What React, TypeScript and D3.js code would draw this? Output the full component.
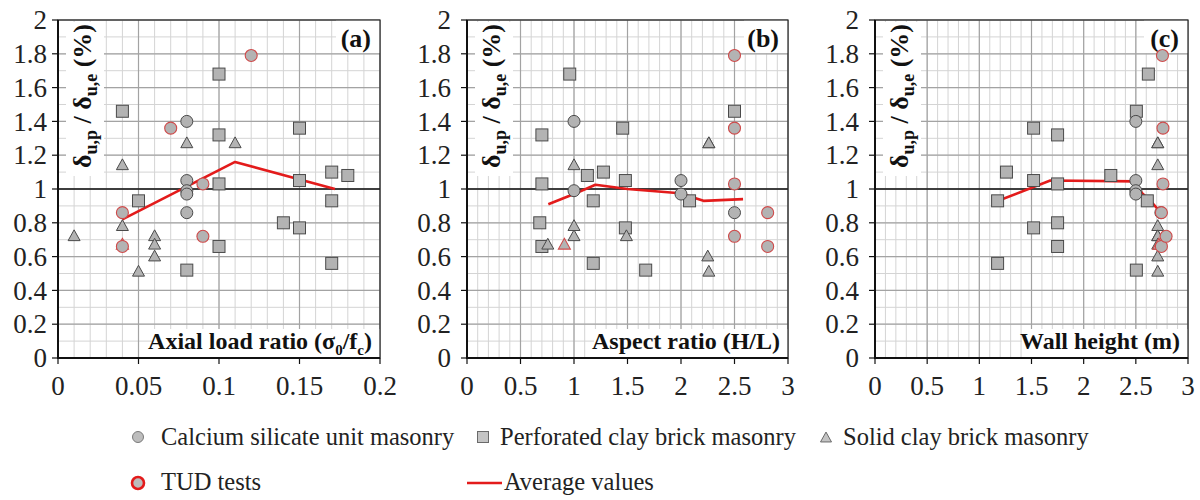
import React from "react";
import * as d3 from "d3";

// Drift-capacity ratio δu,p / δu,e of each specimen, with the three wall parameters
// (axial load ratio σ0/fc, aspect ratio H/L, wall height in m).

// Calcium silicate unit masonry
const calciumRatio = [1.4, 1.05, 0.99, 0.97, 0.86];
const calciumAxial = [0.08, 0.08, 0.08, 0.08, 0.08];
const calciumAspect = [1.0, 2.0, 1.0, 2.0, 2.5];
const calciumHeight = [2.5, 2.5, 2.5, 2.5, 2.74];

// Perforated clay brick masonry
const perforatedRatio = [1.46, 0.93, 0.52, 1.68, 1.32, 1.03, 0.66, 0.8, 1.36, 1.05, 0.77, 1.1, 0.93, 0.56, 1.08];
const perforatedAxial = [0.04, 0.05, 0.08, 0.1, 0.1, 0.1, 0.1, 0.14, 0.15, 0.15, 0.15, 0.17, 0.17, 0.17, 0.18];
const perforatedAspect = [2.5, 1.18, 1.67, 0.96, 0.7, 0.7, 0.7, 0.68, 1.455, 1.48, 1.48, 1.275, 2.08, 1.18, 1.125];
const perforatedHeight = [2.505, 1.175, 2.505, 2.62, 1.75, 1.75, 1.75, 1.75, 1.52, 1.52, 1.52, 1.26, 2.61, 1.175, 2.26];

// Solid clay brick masonry
const solidRatio = [0.72, 1.14, 0.78, 0.51, 0.72, 0.67, 0.6, 1.27, 1.27];
const solidAxial = [0.01, 0.04, 0.04, 0.05, 0.06, 0.06, 0.06, 0.08, 0.11];
const solidAspect = [1.0, 1.0, 1.0, 2.26, 1.49, 0.755, 2.25, 2.26, 2.26];
const solidHeight = [2.71, 2.71, 2.71, 2.71, 2.71, 2.71, 2.71, 2.71, 2.71];

// TUD tests (calcium silicate walls drawn as circles, one solid clay wall as a triangle)
const tudRatio = [0.86, 0.66, 1.36, 1.03, 0.72, 1.79];
const tudAxial = [0.04, 0.04, 0.07, 0.09, 0.09, 0.12];
const tudAspect = [2.81, 2.81, 2.5, 2.5, 2.5, 2.5];
const tudHeight = [2.745, 2.745, 2.76, 2.76, 2.79, 2.755];
const tudTriRatio = [0.67];
const tudTriAxial = [0.04];
const tudTriAspect = [0.91];
const tudTriHeight = [2.72];

// Average values
const avgAxial: [number, number][] = [[0.04, 0.82], [0.11, 1.16], [0.172, 1.0]];
const avgAspect: [number, number][] = [[0.76, 0.91], [1.0, 0.97], [1.2, 1.025], [1.5, 1.0], [1.99, 0.975], [2.21, 0.93], [2.58, 0.94]];
const avgHeight: [number, number][] = [[1.18, 0.93], [1.68, 1.05], [2.49, 1.045], [2.56, 0.975], [2.64, 0.93], [2.74, 0.86]];

// Axes
const yTicks = [0, 0.2, 0.4, 0.6, 0.8, 1, 1.2, 1.4, 1.6, 1.8, 2];
const axialTicks = [0, 0.05, 0.1, 0.15, 0.2];
const aspectTicks = [0, 0.5, 1, 1.5, 2, 2.5, 3];
const heightTicks = [0, 0.5, 1, 1.5, 2, 2.5, 3];

const legendLabels = [
  "Calcium silicate unit masonry",
  "Perforated clay brick masonry",
  "Solid clay brick masonry",
  "TUD tests",
  "Average values",
];

const FONT_NAME = "Liberation Serif";
const FONT = `"${FONT_NAME}"`;
const FILL = "#b3b3b3";
const EDGE = "#4a4a4a";
const RED = "#e31b1b";
const TUD_EDGE = "#cf4a4a";
const MINOR = "#d4d4d4";
const MAJOR = "#a3a3a3";
const MS = 12; // marker size

const TOP = 20;
const BOTTOM = 358;
const fmt = (v: number) => String(+v.toFixed(2));

const y = d3.scaleLinear().domain([0, 2]).range([BOTTOM, TOP]);

const triPath = (cx: number, cy: number, s: number) => {
  const h = s * 0.9;
  return `M${cx},${cy - h * 0.6}L${cx + s / 2},${cy + h * 0.4}L${cx - s / 2},${cy + h * 0.4}Z`;
};

type PanelProps = {
  tag: string;
  left: number;
  right: number;
  ticks: number[];
  minor: number;
  title: React.ReactNode;
  titleWidth: number;
  calcium: number[];
  perforated: number[];
  solid: number[];
  tud: number[];
  tudTri: number[];
  avg: [number, number][];
  yLabelGap: number;
};

const txt = (size: number): React.CSSProperties => ({ fontFamily: FONT, fontSize: size });

function Panel(p: PanelProps) {
  const d0 = p.ticks[0];
  const d1 = p.ticks[p.ticks.length - 1];
  const x = d3.scaleLinear().domain([d0, d1]).range([p.left, p.right]);
  const nx = Math.round((d1 - d0) / p.minor);
  const minorX = d3.range(0, nx + 1).map((i) => d0 + i * p.minor);
  const minorY = d3.range(0, 21).map((i) => i * 0.1);
  const line = d3.line<[number, number]>().x((d) => x(d[0])).y((d) => y(d[1]));
  const ylx = p.left + 33;
  const yly = 96;

  return (
    <g>
      {/* grid */}
      {minorX.map((d, i) => (
        <line key={`mx${i}`} x1={x(d)} x2={x(d)} y1={TOP} y2={BOTTOM} stroke={MINOR} strokeWidth={1} />
      ))}
      {minorY.map((d, i) => (
        <line key={`my${i}`} x1={p.left} x2={p.right} y1={y(d)} y2={y(d)} stroke={MINOR} strokeWidth={1} />
      ))}
      {p.ticks.map((d, i) => (
        <line key={`Mx${i}`} x1={x(d)} x2={x(d)} y1={TOP} y2={BOTTOM} stroke={MAJOR} strokeWidth={1.2} />
      ))}
      {yTicks.map((d, i) => (
        <line key={`My${i}`} x1={p.left} x2={p.right} y1={y(d)} y2={y(d)} stroke={MAJOR} strokeWidth={1.2} />
      ))}

      {/* label backings */}
      <rect x={p.left + 8} y={TOP + 2} width={38} height={154} fill="#fff" />
      <rect x={p.right - 8 - p.titleWidth - 6} y={BOTTOM - 29} width={p.titleWidth + 14} height={29} fill="#fff" />
      <rect x={p.right - 44} y={TOP} width={44} height={33} fill="#fff" />

      {/* y-axis label */}
      <text
        transform={`translate(${ylx},${yly}) rotate(-90)`}
        textAnchor="middle"
        fill="#111"
        fontFamily={FONT_NAME}
        fontWeight="bold"
        style={txt(26)}
      >
        <tspan>δ</tspan>
        <tspan dy={6} fontSize={18}>u,p</tspan>
        <tspan dy={-6}> / δ</tspan>
        <tspan dy={6} fontSize={18}>u,e</tspan>
        <tspan dy={-6}> (%)</tspan>
      </text>

      {/* x-axis title */}
      <text x={p.right - 8} y={BOTTOM - 9} textAnchor="end" fill="#111" fontFamily={FONT_NAME} fontWeight="bold" style={txt(24)}>
        {p.title}
      </text>

      {/* panel tag */}
      <text x={p.right - 9} y={TOP + 27} textAnchor="end" fill="#111" fontFamily={FONT_NAME} fontWeight="bold" style={txt(26)}>
        {p.tag}
      </text>

      {/* reference line at ratio 1 */}
      <line x1={p.left} x2={p.right} y1={y(1)} y2={y(1)} stroke="#111" strokeWidth={1.6} />

      {/* average values */}
      <path d={line(p.avg) || ""} fill="none" stroke={RED} strokeWidth={2.6} strokeLinejoin="round" />

      {/* perforated clay brick masonry */}
      {p.perforated.map((v, i) => (
        <rect
          key={`sq${i}`}
          x={x(v) - MS / 2}
          y={y(perforatedRatio[i]) - MS / 2}
          width={MS}
          height={MS}
          fill={FILL}
          stroke={EDGE}
          strokeWidth={1}
        />
      ))}
      {/* calcium silicate unit masonry */}
      {p.calcium.map((v, i) => (
        <circle key={`ci${i}`} cx={x(v)} cy={y(calciumRatio[i])} r={MS / 2} fill={FILL} stroke={EDGE} strokeWidth={1} />
      ))}
      {/* solid clay brick masonry */}
      {p.solid.map((v, i) => (
        <path key={`tr${i}`} d={triPath(x(v), y(solidRatio[i]), MS)} fill={FILL} stroke={EDGE} strokeWidth={1} />
      ))}
      {/* TUD tests */}
      {p.tudTri.map((v, i) => (
        <path key={`tt${i}`} d={triPath(x(v), y(tudTriRatio[i]), MS)} fill={FILL} stroke={TUD_EDGE} strokeWidth={1.1} />
      ))}
      {p.tud.map((v, i) => (
        <circle key={`tc${i}`} cx={x(v)} cy={y(tudRatio[i])} r={MS / 2} fill={FILL} stroke={TUD_EDGE} strokeWidth={1.1} />
      ))}

      {/* frame and axes */}
      <rect x={p.left} y={TOP} width={p.right - p.left} height={BOTTOM - TOP} fill="none" stroke="#222" strokeWidth={1.2} />
      <line x1={p.left} x2={p.left} y1={TOP} y2={BOTTOM + 1} stroke="#111" strokeWidth={2} />
      <line x1={p.left - 1} x2={p.right} y1={BOTTOM} y2={BOTTOM} stroke="#111" strokeWidth={2} />

      {p.ticks.map((d, i) => (
        <g key={`xt${i}`}>
          <line x1={x(d)} x2={x(d)} y1={BOTTOM} y2={BOTTOM + 6} stroke="#111" strokeWidth={1.2} />
          <text x={x(d)} y={BOTTOM + 37} textAnchor="middle" fill="#222" fontFamily={FONT_NAME} style={txt(27)}>
            {fmt(d)}
          </text>
        </g>
      ))}
      {yTicks.map((d, i) => (
        <g key={`yt${i}`}>
          <line x1={p.left - 6} x2={p.left} y1={y(d)} y2={y(d)} stroke="#111" strokeWidth={1.2} />
          <text x={p.left - p.yLabelGap} y={y(d)} dy="0.34em" textAnchor="end" fill="#222" fontFamily={FONT_NAME} style={txt(27)}>
            {fmt(d)}
          </text>
        </g>
      ))}
    </g>
  );
}

export default function App() {
  const row1 = 437;
  const row2 = 483;
  const legendX = [138, 483, 826];
  return (
    <svg
      width={1200}
      height={500}
      fontFamily={FONT_NAME}
      style={{ position: "absolute", left: 0, top: 0, display: "block", fontFamily: FONT }}
    >
      <style>{`text, tspan { font-family: "Liberation Serif", "Times New Roman", Tinos, serif; }`}</style>
      <rect width={1200} height={500} fill="#fff" />

      <Panel
        tag="(a)" left={58} right={380} ticks={axialTicks} minor={0.01}
        title={<>
          <tspan>Axial load ratio (σ</tspan>
          <tspan dy={6} fontSize={15}>0</tspan>
          <tspan dy={-6}>/f</tspan>
          <tspan dy={6} fontSize={15}>c</tspan>
          <tspan dy={-6}>)</tspan>
        </>}
        titleWidth={214}
        calcium={calciumAxial} perforated={perforatedAxial} solid={solidAxial}
        tud={tudAxial} tudTri={tudTriAxial} avg={avgAxial} yLabelGap={11}
      />
      <Panel
        tag="(b)" left={467} right={788} ticks={aspectTicks} minor={0.1}
        title="Aspect ratio (H/L)" titleWidth={180}
        calcium={calciumAspect} perforated={perforatedAspect} solid={solidAspect}
        tud={tudAspect} tudTri={tudTriAspect} avg={avgAspect} yLabelGap={16}
      />
      <Panel
        tag="(c)" left={875} right={1188} ticks={heightTicks} minor={0.1}
        title="Wall height (m)" titleWidth={152}
        calcium={calciumHeight} perforated={perforatedHeight} solid={solidHeight}
        tud={tudHeight} tudTri={tudTriHeight} avg={avgHeight} yLabelGap={16}
      />

      {/* legend */}
      <g fill="#222">
        <circle cx={legendX[0]} cy={row1} r={5.5} fill="#bdbdbd" stroke="#7a7a7a" strokeWidth={1} />
        <text x={legendX[0] + 23} y={row1 + 8} fontFamily={FONT_NAME} style={txt(24.5)}>{legendLabels[0]}</text>
        <rect x={legendX[1] - 5.5} y={row1 - 5.5} width={11} height={11} fill="#c4c4c4" stroke="#6a6a6a" strokeWidth={1} />
        <text x={legendX[1] + 17} y={row1 + 8} fontFamily={FONT_NAME} style={txt(24.5)}>{legendLabels[1]}</text>
        <path d={triPath(legendX[2], row1 + 1, 11)} fill="#c4c4c4" stroke="#6a6a6a" strokeWidth={1} />
        <text x={legendX[2] + 17} y={row1 + 8} fontFamily={FONT_NAME} style={txt(24.5)}>{legendLabels[2]}</text>

        <circle cx={legendX[0]} cy={row2} r={6} fill="#bdbdbd" stroke={RED} strokeWidth={2.6} />
        <text x={legendX[0] + 23} y={row2 + 7} fontFamily={FONT_NAME} style={txt(24.5)}>{legendLabels[3]}</text>
        <line x1={467} x2={502} y1={row2} y2={row2} stroke={RED} strokeWidth={2.6} />
        <text x={504} y={row2 + 7} fontFamily={FONT_NAME} style={txt(24.5)}>{legendLabels[4]}</text>
      </g>
    </svg>
  );
}
